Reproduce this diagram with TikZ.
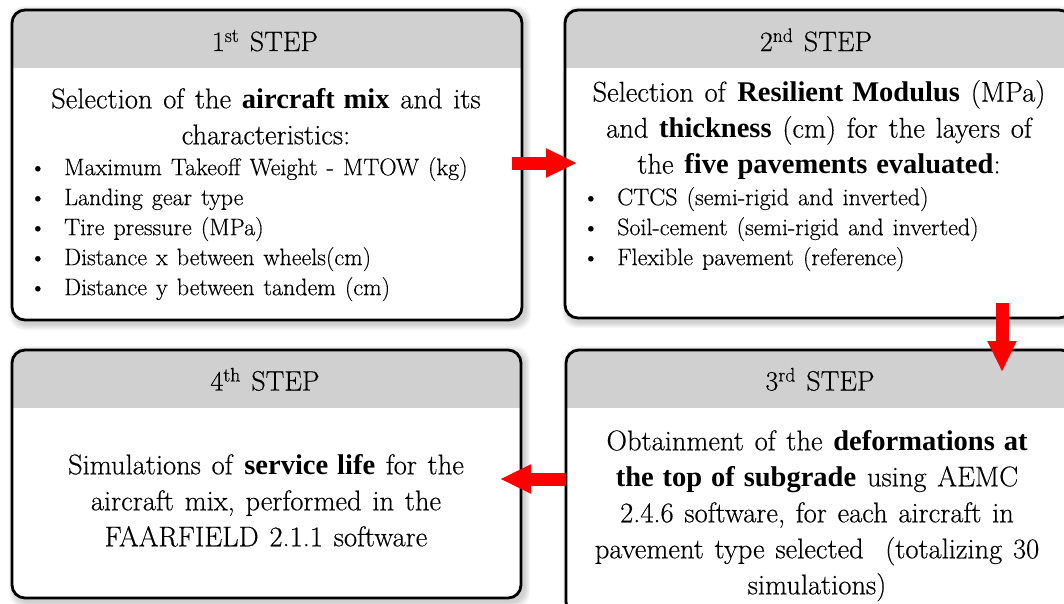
\documentclass[tikz,border=0pt]{standalone}
\usepackage{fontspec}
\setmainfont{Latin Modern Roman}[WordSpace=1.25, UprightFeatures={FakeBold=0.35}, BoldFont={Liberation Serif Bold}, BoldFeatures={Scale=1.0}]
\usetikzlibrary{arrows.meta,calc}
\definecolor{hdrgray}{RGB}{208,208,208}
\definecolor{arrred}{RGB}{255,0,0}
\newcommand\stepframe[5]{%
  \foreach \s in {1,...,6}{
    \fill[shadowlayer] ({#2+3-\s},{#3+2-\s}) rectangle ({#4+3+\s},{#5+4+\s});
  }
  \node[stepbox, minimum width={#4-#2}, minimum height={#5-#3}] (#1) at ({(#2+#4)/2},{(#3+#5)/2}) {};
  \begin{scope}
    \clip[rounded corners=13pt] (#1.north west) rectangle (#1.south east);
    \fill[hdrgray] (#1.north west) rectangle ($(#1.north east)+(0,58)$);
  \end{scope}
  \draw[frameline] (#1.north west) rectangle (#1.south east);
}
\begin{document}
\begin{tikzpicture}[x=1pt,y=-1pt,
  stepbox/.style={fill=white, rounded corners=13pt, inner sep=0pt, outer sep=0pt},
  frameline/.style={draw=black, line width=2.8pt, rounded corners=13pt},
  shadowlayer/.style={fill=black, opacity=0.03, rounded corners=15pt},
  hdrtext/.style={font=\fontsize{28}{32}\selectfont, inner sep=0pt},
  bodytext/.style={font=\fontsize{28.5}{36}\selectfont, align=center, inner sep=0pt},
  listtext/.style={font=\fontsize{24}{30}\selectfont, align=left, inner sep=0pt},
  fatarrow/.style={draw=arrred, line width=13pt, -{Triangle[length=31pt,width=27pt]}},
]
\useasboundingbox (0,0) rectangle (1064,603);
\fill[white] (0,0) rectangle (1064,603);

\stepframe{s1}{12}{10}{522}{320}
\stepframe{s2}{565}{10}{1072}{318}
\stepframe{s4}{12}{350}{521}{598}
\stepframe{s3}{566}{350}{1074}{615}

% headers
\node[hdrtext, anchor=base] (h1) at (265,51) {1\textsuperscript{st} STEP};
\node[hdrtext, anchor=base] (h2) at (816,51) {2\textsuperscript{nd} STEP};
\node[hdrtext, anchor=base] (h3) at (820,390.5) {3\textsuperscript{rd} STEP};
\node[hdrtext, anchor=base] (h4) at (265,390.5) {4\textsuperscript{th} STEP};

% step 1
\node[bodytext, anchor=north] (b1) at (266,88) {Selection of the \textbf{aircraft mix} and its\\characteristics:};
\node[listtext, anchor=north west] (l1) at (29,157) {%
\makebox[35pt][l]{\textbullet}Maximum Takeoff Weight - MTOW (kg)\\
\makebox[35pt][l]{\textbullet}Landing gear type\\
\makebox[35pt][l]{\textbullet}Tire pressure (MPa)\\
\makebox[35pt][l]{\textbullet}Distance x between wheels(cm)\\
\makebox[35pt][l]{\textbullet}Distance y between tandem (cm)};

% step 2
\node[bodytext, anchor=north] (b2) at (819,80) {Selection of \textbf{Resilient Modulus} (MPa)\\and \textbf{thickness} (cm) for the layers of\\the \textbf{five pavements evaluated}:};
\node[listtext, anchor=north west] (l2) at (582,187) {%
\makebox[35pt][l]{\textbullet}CTCS (semi-rigid and inverted)\\
\makebox[35pt][l]{\textbullet}Soil-cement (semi-rigid and inverted)\\
\makebox[35pt][l]{\textbullet}Flexible pavement (reference)};

% step 3
\node[bodytext, anchor=north] (b3) at (817,430) {Obtainment of the \textbf{deformations at}\\\textbf{the top of subgrade} using AEMC\\2.4.6 software, for each aircraft in\\pavement type selected\ \ (totalizing 30\\simulations)};

% step 4
\node[bodytext, anchor=north] (b4) at (266,454) {Simulations of \textbf{service life} for the\\aircraft mix, performed in the\\FAARFIELD 2.1.1 software};

% arrows
\coordinate (dx) at (1002,0);
\coordinate (ly) at (0,479);
\coordinate (ry) at (0,163);
\draw[fatarrow] ([xshift=-10pt]s1.east |- ry) -- ([xshift=12pt]s2.west |- ry);
\draw[fatarrow] ($(s2.south -| dx)+(0,-15)$) -- ($(s3.north -| dx)+(0,22)$);
\draw[fatarrow] (s3.west |- ly) -- ($(s4.east |- ly)+(-21,0)$);
\end{tikzpicture}
\end{document}
